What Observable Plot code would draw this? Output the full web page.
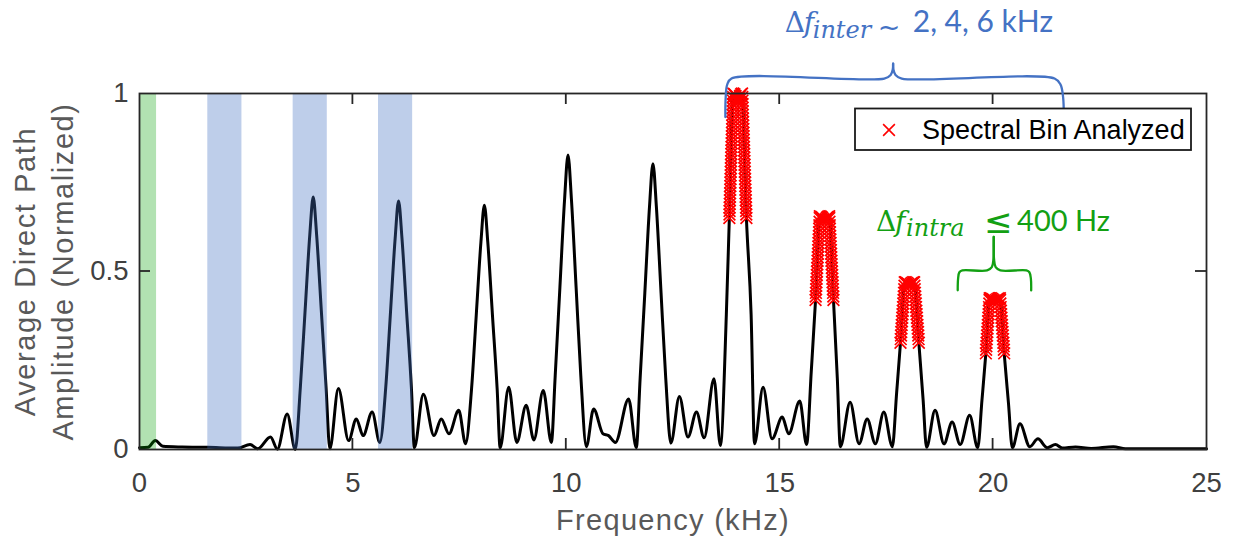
<!DOCTYPE html>
<html><head><meta charset="utf-8">
<script src="https://cdn.jsdelivr.net/npm/d3@7"></script>
<script src="https://cdn.jsdelivr.net/npm/@observablehq/plot@0.6"></script>
<style>
html,body{margin:0;padding:0;background:#fff;}
#chart{position:relative;width:1233px;height:542px;overflow:hidden;}
</style></head><body><div id="chart"></div>
<script>
// ---- spectrum (frequency in kHz, normalized amplitude) ----
const specF = [0.00,0.20,0.37,0.55,1.00,1.60,2.30,2.59,2.77,3.07,3.23,3.46,3.65,
  3.77,3.88,3.99,4.07,4.15,4.26,4.37,4.46,4.66,4.90,5.08,5.24,5.45,5.63,
  5.77,5.88,5.99,6.07,6.15,6.26,6.37,6.44,6.65,6.90,7.07,7.25,7.48,7.64,
  7.78,7.89,8.00,8.08,8.16,8.27,8.38,8.45,8.65,8.84,9.06,9.24,9.46,9.65,
  9.74,9.85,9.96,10.04,10.12,10.23,10.34,10.47,10.64,10.86,10.99,11.15,11.46,11.64,
  11.73,11.84,11.95,12.03,12.11,12.22,12.33,12.45,12.65,12.85,13.05,13.23,13.46,13.61,
  13.75,13.82,13.912,14.02,14.118,14.22,14.33,14.41,14.61,14.82,15.06,15.21,15.47,15.63,
  15.74,15.84,15.94,16.05,16.16,16.26,16.35,16.42,16.65,16.86,17.05,17.24,17.44,17.64,
  17.74,17.83,17.93,18.04,18.15,18.26,18.36,18.44,18.64,18.85,19.04,19.23,19.45,19.64,
  19.74,19.83,19.92,20.04,20.16,20.26,20.36,20.45,20.63,20.86,21.05,21.27,21.46,21.62,
  21.93,22.30,22.82,23.10,25.00];
const specA = [0.005,0.006,0.025,0.009,0.007,0.006,0.004,0.014,0.002,0.035,0.001,0.100,0.000,
  0.177,0.390,0.603,0.709,0.603,0.390,0.177,0.002,0.171,0.025,0.086,0.039,0.105,0.020,
  0.175,0.384,0.593,0.698,0.593,0.384,0.175,0.005,0.155,0.039,0.086,0.044,0.110,0.016,
  0.170,0.377,0.583,0.686,0.583,0.377,0.170,0.005,0.175,0.020,0.124,0.027,0.166,0.020,
  0.207,0.455,0.703,0.827,0.703,0.455,0.207,0.008,0.114,0.044,0.039,0.020,0.142,0.005,
  0.200,0.440,0.683,0.803,0.683,0.440,0.200,0.018,0.149,0.035,0.105,0.033,0.199,0.011,
  0.380,0.650,1.000,0.978,1.000,0.650,0.380,0.016,0.175,0.030,0.091,0.044,0.136,0.014,
  0.220,0.420,0.655,0.645,0.655,0.420,0.200,0.008,0.133,0.016,0.086,0.016,0.105,0.008,
  0.160,0.300,0.470,0.462,0.470,0.300,0.140,0.006,0.110,0.016,0.077,0.014,0.096,0.005,
  0.140,0.270,0.425,0.417,0.425,0.270,0.130,0.005,0.072,0.008,0.030,0.005,0.014,0.004,
  0.007,0.003,0.008,0.002,0.002];

// ---- analyzed spectral bins (red crosses), one list per analyzed peak ----
const bin14F = [13.820,13.823,13.825,13.828,13.830,13.833,13.835,13.838,13.841,13.843,13.846,13.848,13.851,13.853,13.856,13.859,13.861,13.864,13.866,13.869,13.871,13.874,13.877,13.879,13.882,13.884,13.887,13.889,13.892,13.894,13.897,13.900,13.902,13.905,13.907,
  13.912,13.940,13.965,13.990,14.020,14.045,14.070,14.095,14.118,
  14.123,14.126,14.129,14.131,14.134,14.137,14.140,14.143,14.146,14.149,14.151,14.154,14.157,14.160,14.163,14.166,14.169,14.171,14.174,14.177,14.180,14.183,14.186,14.189,14.191,14.194,14.197,14.200,14.203,14.206,14.209,14.211,14.214,14.217,14.220];
const bin14A = [0.65,0.66,0.67,0.68,0.69,0.70,0.71,0.72,0.73,0.74,0.75,0.76,0.77,0.78,0.79,0.80,0.81,0.82,0.83,0.84,0.85,0.86,0.87,0.88,0.89,0.90,0.91,0.92,0.93,0.94,0.95,0.96,0.97,0.98,0.99,
  1.0,0.998,0.993,0.985,0.978,0.985,0.993,0.998,1.0,
  0.99,0.98,0.97,0.96,0.95,0.94,0.93,0.92,0.91,0.90,0.89,0.88,0.87,0.86,0.85,0.84,0.83,0.82,0.81,0.80,0.79,0.78,0.77,0.76,0.75,0.74,0.73,0.72,0.71,0.70,0.69,0.68,0.67,0.66,0.65];
const bin16F = [15.840,15.844,15.849,15.853,15.857,15.861,15.866,15.870,15.874,15.878,15.883,15.887,15.891,15.896,15.900,15.904,15.908,15.912,15.917,15.921,15.925,15.930,15.934,15.938,
  15.940,15.970,15.995,16.020,16.050,16.080,16.105,16.130,16.160,
  16.162,16.166,16.171,16.175,16.179,16.183,16.188,16.192,16.196,16.200,16.205,16.209,16.213,16.217,16.222,16.226,16.230,16.234,16.239,16.243,16.247,16.251,16.256,16.260];
const bin16A = [0.42,0.43,0.44,0.45,0.46,0.47,0.48,0.49,0.50,0.51,0.52,0.53,0.54,0.55,0.56,0.57,0.58,0.59,0.60,0.61,0.62,0.63,0.64,0.65,
  0.655,0.654,0.651,0.647,0.645,0.647,0.651,0.654,0.655,
  0.65,0.64,0.63,0.62,0.61,0.60,0.59,0.58,0.57,0.56,0.55,0.54,0.53,0.52,0.51,0.50,0.49,0.48,0.47,0.46,0.45,0.44,0.43,0.42];
const bin18F = [17.830,17.836,17.842,17.848,17.854,17.859,17.865,17.871,17.877,17.883,17.889,17.895,17.901,17.906,17.912,17.918,17.924,17.930,
  17.955,17.985,18.010,18.040,18.070,18.095,18.125,
  18.150,18.156,18.163,18.169,18.176,18.182,18.189,18.195,18.202,18.208,18.215,18.221,18.228,18.234,18.241,18.247,18.254,18.260];
const bin18A = [0.30,0.31,0.32,0.33,0.34,0.35,0.36,0.37,0.38,0.39,0.40,0.41,0.42,0.43,0.44,0.45,0.46,0.47,
  0.47,0.468,0.465,0.462,0.465,0.468,0.47,
  0.47,0.46,0.45,0.44,0.43,0.42,0.41,0.40,0.39,0.38,0.37,0.36,0.35,0.34,0.33,0.32,0.31,0.30];
const bin20F = [19.830,19.836,19.842,19.847,19.853,19.859,19.865,19.871,19.876,19.882,19.888,19.894,19.900,19.905,19.911,19.917,19.920,
  19.950,19.980,20.010,20.040,20.070,20.100,20.130,20.160,
  20.163,20.170,20.176,20.183,20.189,20.196,20.202,20.208,20.215,20.221,20.228,20.234,20.241,20.247,20.253,20.260];
const bin20A = [0.27,0.28,0.29,0.30,0.31,0.32,0.33,0.34,0.35,0.36,0.37,0.38,0.39,0.40,0.41,0.42,0.425,
  0.425,0.423,0.42,0.417,0.42,0.423,0.425,0.425,
  0.42,0.41,0.40,0.39,0.38,0.37,0.36,0.35,0.34,0.33,0.32,0.31,0.30,0.29,0.28,0.27];

// ---- shaded bands (kHz) ----
const bandLo = [0.0, 1.6, 3.6, 5.6];
const bandHi = [0.4, 2.4, 4.4, 6.4];
const bandKind = ["intra", "inter", "inter", "inter"];

// ---- axes ----
const xTickVals = [0, 5, 10, 15, 20, 25];
const yTickVals = [0, 0.5, 1];
const xInnerTicks = [5, 10, 15, 20];
const yInnerTicks = [0.5];
const xTitle = "Frequency (kHz)";
const yTitle = "Average Direct Path\nAmplitude (Normalized)";
const legendLabel = "Spectral Bin Analyzed";

// ---- annotation braces (data coordinates) ----
const interBraceF = [13.727,13.735,13.77,13.87,17.45,17.60,17.65,17.657, 17.657,17.664,17.714,17.86,21.44,21.58,21.64,21.656];
const interBraceA = [0.934,0.99,1.025,1.042,1.042,1.052,1.068,1.084, 1.084,1.068,1.052,1.042,1.042,1.025,0.99,0.934];
const interBraceSide = ["L","L","L","L","L","L","L","L","R","R","R","R","R","R","R","R"];
const intraBraceF = [19.171,19.18,19.21,19.28,19.86,19.97,20.008,20.015, 20.015,20.022,20.06,20.17,20.78,20.85,20.885,20.892];
const intraBraceA = [0.447,0.48,0.498,0.503,0.503,0.512,0.535,0.597, 0.597,0.535,0.512,0.503,0.503,0.498,0.48,0.447];
const intraBraceSide = ["L","L","L","L","L","L","L","L","R","R","R","R","R","R","R","R"];
const interLabelAt = [15.13, 1.17];
const intraLabelAt = [17.27, 0.611];

const BLUE = "#4472c4", GREEN = "#13a013";

// ---- build tables ----
const spectrum = specF.map((f, i) => ({f, a: specA[i]}));
const bins = [[bin14F, bin14A], [bin16F, bin16A], [bin18F, bin18A], [bin20F, bin20A]]
  .flatMap(([F, A]) => F.map((f, i) => ({f, a: A[i]})));
const bands = bandLo.map((lo, i) => ({lo, hi: bandHi[i], kind: bandKind[i]}));
const braces = [
  ...interBraceF.map((f, i) => ({f, a: interBraceA[i], id: "inter" + interBraceSide[i], color: BLUE})),
  ...intraBraceF.map((f, i) => ({f, a: intraBraceA[i], id: "intra" + intraBraceSide[i], color: GREEN}))
];

const chart = Plot.plot({
  width: 1233, height: 542,
  marginLeft: 139, marginRight: 27, marginTop: 93, marginBottom: 93,
  style: {fontFamily: "'Liberation Sans', Arial, sans-serif", fontSize: "27.5px", color: "#404040", background: "#ffffff", overflow: "visible"},
  color: {type: "identity"},
  x: {domain: [0, 25], ticks: xTickVals, tickSize: 0, tickPadding: 23, label: null, tickFormat: d => String(d)},
  y: {domain: [0, 1], ticks: yTickVals, tickSize: 0, tickPadding: 11, label: null, tickFormat: d => String(d)},
  marks: [
    Plot.line(spectrum, {x: "f", y: "a", curve: "monotone-x", stroke: "#000000", strokeWidth: 3}),
    Plot.rect(bands, {x1: "lo", x2: "hi", fill: d => d.kind === "intra" ? "#00a000" : BLUE, fillOpacity: d => d.kind === "intra" ? 0.3 : 0.35}),
    Plot.dot(bins, {x: "f", y: "a", symbol: "times", r: 5.4, stroke: "#ff0000", strokeWidth: 1.7}),
    Plot.frame({stroke: "#262626", strokeWidth: 1.8}),
    Plot.line(braces, {x: "f", y: "a", z: "id", stroke: "color", strokeWidth: 2.3, curve: "catmull-rom"}),
    Plot.text([xTitle], {frameAnchor: "bottom", dy: 71, text: d => d, fill: "#595959", fontSize: 29, lineAnchor: "middle", textAnchor: "middle"}),
    Plot.text([yTitle], {frameAnchor: "left", dx: -98, rotate: -90, text: d => d, fill: "#595959", fontSize: 29, lineAnchor: "middle", textAnchor: "middle", lineHeight: 1.31})
  ]
});
document.getElementById("chart").appendChild(chart);

const svg = d3.select(chart);
const sx = chart.scale("x"), sy = chart.scale("y");
const X = v => sx.apply(v), Y = v => sy.apply(v);

// letter spacing on axis titles
svg.selectAll("text").filter(function() { return this.textContent.includes("Frequency"); })
  .style("letter-spacing", "1.3px");
svg.selectAll("text").filter(function() { return this.textContent.includes("Average"); })
  .style("letter-spacing", "1.6px");

// inward ticks
const tg = svg.append("g").attr("stroke", "#262626").attr("stroke-width", 1.8);
const [y0, y1] = [Y(0), Y(1)], [x0, x1] = [X(0), X(25)];
for (const v of xInnerTicks) {
  tg.append("line").attr("x1", X(v)).attr("x2", X(v)).attr("y1", y0).attr("y2", y0 - 11);
  tg.append("line").attr("x1", X(v)).attr("x2", X(v)).attr("y1", y1).attr("y2", y1 + 11);
}
for (const v of yInnerTicks) {
  tg.append("line").attr("y1", Y(v)).attr("y2", Y(v)).attr("x1", x0).attr("x2", x0 + 11);
  tg.append("line").attr("y1", Y(v)).attr("y2", Y(v)).attr("x1", x1).attr("x2", x1 - 11);
}

// legend
const lg = svg.append("g");
lg.append("rect").attr("x", 855).attr("y", 108.5).attr("width", 336).attr("height", 41.5)
  .attr("fill", "#fff").attr("stroke", "#1a1a1a").attr("stroke-width", 1.8);
lg.append("path").attr("transform", "translate(889,130)")
  .attr("d", d3.symbol(d3.symbolTimes, Math.PI * 5.4 * 5.4)())
  .attr("fill", "none").attr("stroke", "#ff0000").attr("stroke-width", 1.6);
lg.append("text").attr("x", 922).attr("y", 130).attr("dy", "0.35em").attr("text-anchor", "start")
  .attr("font-size", 27).attr("fill", "#000").attr("font-family", "'Liberation Sans', Arial, sans-serif")
  .text(legendLabel);

// math annotations
const SERIF = "'DejaVu Serif', serif", SANS = "Lato, 'Open Sans', sans-serif", DSANS = "'DejaVu Sans', sans-serif";
function mathLabel(at, color, pieces) {
  const ax = X(at[0]), ay = Y(at[1]);
  const t = svg.append("text").attr("fill", color).attr("text-anchor", "start");
  for (const p of pieces) {
    t.append("tspan").attr("x", ax + p.dx).attr("y", ay + (p.dy || 0))
      .attr("font-family", p.font).attr("font-size", p.size)
      .attr("font-style", p.italic ? "italic" : "normal").text(p.t);
  }
}
mathLabel(interLabelAt, BLUE, [
  {t: "Δ", dx: 0, font: SERIF, size: 28},
  {t: "f", dx: 19, font: SERIF, size: 28, italic: true},
  {t: "inter", dx: 28, dy: 6, font: SERIF, size: 24, italic: true},
  {t: "~", dx: 93, dy: 4, font: DSANS, size: 27},
  {t: "2, 4, 6 kHz", dx: 128, font: SANS, size: 30}
]);
mathLabel(intraLabelAt, GREEN, [
  {t: "Δ", dx: 0, font: SERIF, size: 28},
  {t: "f", dx: 19, font: SERIF, size: 28, italic: true},
  {t: "intra", dx: 30, dy: 5, font: SERIF, size: 24, italic: true},
  {t: "≤", dx: 108, dy: 2, font: DSANS, size: 34},
  {t: "400 Hz", dx: 141, font: SANS, size: 29}
]);
</script></body></html>
